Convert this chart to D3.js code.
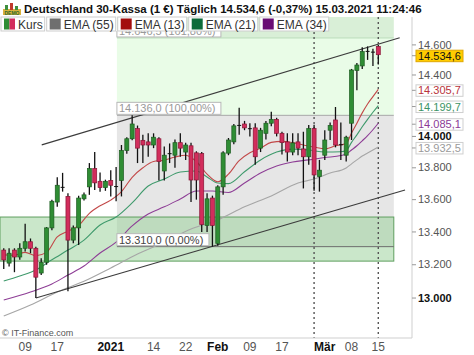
<!DOCTYPE html>
<html>
<head>
<meta charset="utf-8">
<script src="https://cdn.jsdelivr.net/npm/d3@7"></script>
<style>
    body { margin: 0; background: #fff; }
    svg { display: block; font-family: "Liberation Sans", Arial, sans-serif; }
</style>
</head>
<body>
<div id="wrapper"></div>
<script>
// trading days shown on the chart
const dates = [
    "2020-12-03", "2020-12-04", "2020-12-07", "2020-12-08", "2020-12-09", "2020-12-10", "2020-12-11",
    "2020-12-14", "2020-12-15", "2020-12-16", "2020-12-17", "2020-12-18", "2020-12-21", "2020-12-22",
    "2020-12-23", "2020-12-24", "2020-12-28", "2020-12-29", "2020-12-30", "2020-12-31",
    "2021-01-04", "2021-01-05", "2021-01-06", "2021-01-07", "2021-01-08", "2021-01-11", "2021-01-12",
    "2021-01-13", "2021-01-14", "2021-01-15", "2021-01-18", "2021-01-19", "2021-01-20", "2021-01-21",
    "2021-01-22", "2021-01-25", "2021-01-26", "2021-01-27", "2021-01-28", "2021-01-29",
    "2021-02-01", "2021-02-02", "2021-02-03", "2021-02-04", "2021-02-05", "2021-02-08", "2021-02-09",
    "2021-02-10", "2021-02-11", "2021-02-12", "2021-02-15", "2021-02-16", "2021-02-17", "2021-02-18",
    "2021-02-19", "2021-02-22", "2021-02-23", "2021-02-24", "2021-02-25", "2021-02-26",
    "2021-03-01", "2021-03-02", "2021-03-03", "2021-03-04", "2021-03-05", "2021-03-08", "2021-03-09",
    "2021-03-10", "2021-03-11", "2021-03-12", "2021-03-15"
];
const opens = [
    13289, 13210, 13289, 13247, 13300, 13340, 13300, 13150, 13215, 13425, 13585, 13680, 13620, 13350,
    13425, 13605, 13680, 13795, 13715, 13675, 13720, 13682, 13720, 13910, 13985, 14050, 13975, 13965,
    13945, 13985, 13780, 13890, 13880, 13960, 13900, 13940, 13895, 13890, 13440, 13610, 13330, 13680,
    13893, 13965, 14070, 14080, 14050, 14055, 13925, 14020, 14085, 14110, 14020, 13965, 13900, 13965,
    13920, 13870, 14050, 13745, 13880, 14040, 14106, 13950, 13880, 14085, 14430, 14460, 14555, 14555,
    14590
];
const highs = [
    13300, 13300, 13300, 13330, 13450, 13360, 13310, 13240, 13430, 13600, 13740, 13768, 13640, 13440,
    13625, 13645, 13830, 13900, 13770, 13725, 13785, 13805, 13945, 13995, 14136, 14070, 14010, 14020,
    14020, 13995, 13935, 13955, 13980, 14020, 13960, 13960, 13905, 13900, 13640, 13625, 13690, 13905,
    13990, 14080, 14185, 14100, 14085, 14085, 14055, 14100, 14160, 14120, 14030, 14020, 14020, 14020,
    14030, 14074, 14075, 13850, 14040, 14090, 14190, 14090, 14005, 14440, 14480, 14585, 14590, 14575,
    14600
];
const lows = [
    13175, 13190, 13155, 13230, 13280, 13270, 13000, 13138, 13200, 13410, 13555, 13650, 13040, 13330,
    13320, 13595, 13630, 13660, 13650, 13655, 13620, 13590, 13620, 13890, 13975, 13830, 13830, 13870,
    13925, 13720, 13720, 13830, 13800, 13870, 13850, 13585, 13600, 13400, 13400, 13310, 13315, 13630,
    13880, 13950, 14010, 14040, 14000, 13820, 13900, 13980, 14065, 14000, 13885, 13840, 13880, 13880,
    13670, 13820, 13655, 13650, 13850, 13977, 13930, 13850, 13840, 13977, 14300, 14440, 14500, 14460,
    14470
];
const closes = [
    13229, 13270, 13247, 13300, 13340, 13300, 13125, 13215, 13425, 13590, 13690, 13677, 13350, 13425,
    13610, 13630, 13795, 13705, 13675, 13715, 13690, 13685, 13910, 13985, 14080, 13925, 13945, 13945,
    13995, 13840, 13880, 13893, 13960, 13925, 13945, 13723, 13723, 13445, 13605, 13440, 13680, 13895,
    13977, 14068, 14074, 14055, 14053, 13870, 14040, 14085, 14110, 14020, 13960, 13900, 13958, 13925,
    13870, 14050, 13755, 13785, 13977, 14070, 13945, 13945, 13995, 14433, 14466, 14555, 14560, 14550,
    14534.6
];

// moving averages at a few days
const ema13Days = [0, 2, 4, 6, 8, 10, 12, 14, 16, 18, 20, 22, 24, 26, 28, 30, 32, 34, 36, 38, 40, 42, 44, 46,
    48, 50, 52, 54, 56, 58, 60, 62, 64, 65, 66, 67, 68, 69, 70];
const ema13Values = [13260, 13258, 13275, 13255, 13275, 13370, 13405, 13440, 13515, 13562, 13597, 13650,
    13740, 13800, 13840, 13848, 13868, 13880, 13840, 13760, 13712, 13760, 13845, 13895, 13925, 13962, 13968,
    13960, 13945, 13932, 13920, 13940, 13955, 14022, 14085, 14152, 14210, 14258, 14305.7];
const ema21Days = [0, 3, 6, 9, 12, 15, 18, 21, 24, 27, 30, 33, 36, 38, 40, 42, 45, 48, 51, 54, 57, 60, 63,
    64, 65, 66, 67, 68, 69, 70];
const ema21Values = [13102, 13132, 13168, 13230, 13289, 13350, 13443, 13492, 13580, 13685, 13729, 13773,
    13780, 13742, 13704, 13700, 13775, 13850, 13900, 13919, 13913, 13900, 13902, 13910, 13962, 14010, 14062,
    14110, 14156, 14199.7];
const ema34Days = [0, 5, 9, 12, 15, 18, 21, 24, 27, 30, 33, 36, 39, 42, 45, 48, 51, 54, 57, 60, 63, 64, 65,
    66, 67, 68, 69, 70];
const ema34Values = [12988, 13036, 13084, 13138, 13192, 13271, 13338, 13437, 13511, 13555, 13604, 13654,
    13654, 13645, 13704, 13767, 13812, 13837, 13850, 13865, 13878, 13887, 13913, 13940, 13972, 14005, 14043,
    14085.1];
const ema55Days = [0, 5, 10, 15, 20, 25, 30, 35, 40, 45, 50, 55, 58, 61, 64, 65, 66, 67, 68, 69, 70];
const ema55Values = [12893, 12958, 13036, 13100, 13180, 13265, 13338, 13418, 13474, 13555, 13623, 13704,
    13729, 13767, 13799, 13825, 13850, 13875, 13894, 13913, 13932.5];

// fibonacci retracement and zones
const fibLevels = [13310.0, 14136.0, 14646.5];
const fibPercents = [0, 100, 161.8];
const fibSpan = [21.15, 72.9];
const supportZone = [13222, 13492];
const supportSpan = [-0.7, 72.9];
const upperTrend = [[7.1, 13946], [74.0, 14648]];
const lowerTrend = [[6.0, 13000], [75.0, 13660]];
const markerDays = ["2021-02-25", "2021-03-15"];

// axes
const yTicks = [13000, 13200, 13400, 13600, 13800, 14000, 14400, 14600];
const yBoldTicks = [13000, 14000];
const xTickDays = ["2020-12-09", "2020-12-17", "2021-01-04", "2021-01-14", "2021-01-22", "2021-02-01",
    "2021-02-09", "2021-02-17", "2021-03-01", "2021-03-08", "2021-03-15"];
const xTickTexts = ["09", "17", "2021", "14", "22", "Feb", "09", "17", "Mär", "08", "15"];

const legendLabels = ["Kurs", "EMA (55)", "EMA (13)", "EMA (21)", "EMA (34)"];
const titleText = "Deutschland 30-Kassa (1 €) Täglich 14.534,6 (-0,37%) 15.03.2021 11:24:46";

async function drawChart() {
    const de = d3.formatLocale({ decimal: ",", thousands: ".", grouping: [3], currency: ["", " €"] });
    const fmtPrice = de.format(",.1f");
    const fmtTick = de.format(",.0f");
    const fmtPct = de.format(".2f");

    const candles = dates.map((d, i) => ({
        i, date: d, open: opens[i], high: highs[i], low: lows[i], close: closes[i]
    }));

    //2. dimensions
    const dimensions = {
        width: 474,
        height: 355,
        margin: { top: 17, right: 62, bottom: 17, left: 0 }
    };
    dimensions.boundedWidth = dimensions.width - dimensions.margin.left - dimensions.margin.right;
    dimensions.boundedHeight = dimensions.height - dimensions.margin.top - dimensions.margin.bottom;
    const legendBottom = 14;

    //3. canvas
    const wrapper = d3.select('#wrapper')
        .append('svg')
        .attr('width', dimensions.width)
        .attr('height', dimensions.height);
    const bounds = wrapper.append('g')
        .attr('transform', `translate(${dimensions.margin.left},${dimensions.margin.top})`);
    bounds.append('clipPath').attr('id', 'plot-clip')
        .append('rect')
        .attr('width', dimensions.boundedWidth)
        .attr('height', dimensions.boundedHeight);
    bounds.append('clipPath').attr('id', 'below-legend')
        .append('rect')
        .attr('y', legendBottom)
        .attr('width', dimensions.boundedWidth)
        .attr('height', dimensions.boundedHeight - legendBottom);
    const plot = bounds.append('g').attr('clip-path', 'url(#plot-clip)');

    //4. scales
    const xScale = d3.scaleLinear()
        .domain([-0.7, 76.3])
        .range([0, dimensions.boundedWidth]);
    const yScale = d3.scaleLog()
        .domain([12764, 14788])
        .range([dimensions.boundedHeight, 0]);
    const dayIndex = d => dates.indexOf(d);

    //5. zones
    const [fib0, fib100, fib161] = fibLevels;
    const fibX = xScale(fibSpan[0]);
    const fibW = xScale(fibSpan[1]) - xScale(fibSpan[0]);
    plot.append('rect')
        .attr('x', fibX).attr('width', fibW)
        .attr('y', 0)
        .attr('height', yScale(fib161))
        .attr('fill', '#d9efd7');
    plot.append('rect')
        .attr('x', fibX).attr('width', fibW)
        .attr('y', yScale(fib161))
        .attr('height', yScale(fib100) - yScale(fib161))
        .attr('fill', '#e9fce7');
    plot.append('rect')
        .attr('x', fibX).attr('width', fibW)
        .attr('y', yScale(fib100))
        .attr('height', yScale(fib0) - yScale(fib100))
        .attr('fill', '#e6e6e6');
    plot.append('rect')
        .attr('x', xScale(supportSpan[0]))
        .attr('width', xScale(supportSpan[1]) - xScale(supportSpan[0]))
        .attr('y', yScale(supportZone[1]))
        .attr('height', yScale(supportZone[0]) - yScale(supportZone[1]))
        .attr('fill', 'rgba(150,208,150,0.5)')
        .attr('stroke', '#5f9f5f')
        .attr('stroke-width', 1);

    const fibColors = ['#6d6d6d', '#a8a8a8', '#b9dcb9'];
    fibLevels.forEach((lvl, k) => {
        plot.append('line')
            .attr('x1', fibX)
            .attr('x2', fibX + fibW)
            .attr('y1', yScale(lvl))
            .attr('y2', yScale(lvl))
            .attr('stroke', fibColors[k])
            .attr('stroke-width', 1);
    });

    // dotted markers
    plot.selectAll('.marker')
        .data(markerDays)
        .join('line')
        .attr('class', 'marker')
        .attr('x1', d => xScale(dayIndex(d)))
        .attr('x2', d => xScale(dayIndex(d)))
        .attr('y1', 0)
        .attr('y2', dimensions.boundedHeight)
        .attr('stroke', '#555')
        .attr('stroke-width', 1.4)
        .attr('stroke-dasharray', '2,3');

    // moving averages
    const emaLine = d3.line()
        .x(d => xScale(d[0]))
        .y(d => yScale(d[1]))
        .curve(d3.curveMonotoneX);
    const emas = [
        { days: ema55Days, values: ema55Values, color: '#a6a6a6' },
        { days: ema34Days, values: ema34Values, color: '#8e3e96' },
        { days: ema21Days, values: ema21Values, color: '#3f9a6c' },
        { days: ema13Days, values: ema13Values, color: '#c24848' }
    ];
    emas.forEach(e => {
        plot.append('path')
            .datum(e.days.map((d, k) => [d, e.values[k]]))
            .attr('d', emaLine)
            .attr('fill', 'none')
            .attr('stroke', e.color)
            .attr('stroke-width', 1.1);
    });

    // trend channel
    [upperTrend, lowerTrend].forEach(t => {
        plot.append('line')
            .attr('x1', xScale(t[0][0]))
            .attr('y1', yScale(t[0][1]))
            .attr('x2', xScale(t[1][0]))
            .attr('y2', yScale(t[1][1]))
            .attr('stroke', '#3c3c3c')
            .attr('stroke-width', 1.2);
    });

    // candles
    const isDoji = d => Math.abs(d.open - d.close) < 8;
    const candleG = plot.selectAll('.candle')
        .data(candles)
        .join('g')
        .attr('class', 'candle');
    candleG.append('line')
        .attr('x1', d => xScale(d.i))
        .attr('x2', d => xScale(d.i))
        .attr('y1', d => yScale(d.high))
        .attr('y2', d => yScale(d.low))
        .attr('stroke', '#111')
        .attr('stroke-width', 1.3);
    candleG.append('rect')
        .attr('x', d => xScale(d.i) - 2)
        .attr('width', 4)
        .attr('y', d => yScale(Math.max(d.open, d.close)))
        .attr('height', d => Math.max(1, Math.abs(yScale(d.open) - yScale(d.close))))
        .attr('fill', d => isDoji(d) ? '#111' : (d.close > d.open ? '#2f8d34' : '#d22d5c'))
        .attr('stroke', d => isDoji(d) ? 'none' : (d.close > d.open ? '#1c5c20' : '#8a1535'))
        .attr('stroke-width', 0.7);

    // fib labels (the top one sits partly under the legend)
    const fibLabelG = bounds.append('g')
        .attr('clip-path', 'url(#below-legend)')
        .selectAll('.fib-label')
        .data(fibLevels)
        .join('g')
        .attr('class', 'fib-label')
        .attr('transform', d => `translate(${fibX},${yScale(d) - 13})`);
    fibLabelG.append('rect')
        .attr('width', (d, k) => k === 0 ? 92 : 104)
        .attr('height', 12)
        .attr('fill', '#fff')
        .attr('stroke', '#b8b8b8');
    fibLabelG.append('text')
        .attr('x', 2)
        .attr('y', 10)
        .attr('font-size', 11)
        .attr('fill', (d, k) => k === 0 ? '#444' : '#999')
        .text((d, k) => `${fmtPrice(d)} (${fmtPct(fibPercents[k])}%)`);

    //6. peripherals
    const axisX = dimensions.boundedWidth;
    bounds.append('line')
        .attr('x1', axisX).attr('x2', axisX)
        .attr('y1', 0).attr('y2', dimensions.boundedHeight)
        .attr('stroke', '#cfcfcf');
    bounds.append('line')
        .attr('x1', 0).attr('x2', axisX)
        .attr('y1', dimensions.boundedHeight).attr('y2', dimensions.boundedHeight)
        .attr('stroke', '#cfcfcf');

    const yAxis = bounds.append('g');
    const yTick = yAxis.selectAll('.ytick')
        .data(yTicks)
        .join('g')
        .attr('transform', d => `translate(${axisX},${yScale(d)})`);
    yTick.append('line').attr('x1', 0).attr('x2', 4).attr('stroke', '#999');
    yTick.append('text')
        .attr('x', 6)
        .attr('dy', '0.33em')
        .attr('font-size', 11)
        .attr('font-weight', d => yBoldTicks.includes(d) ? 'bold' : 'normal')
        .attr('fill', d => yBoldTicks.includes(d) ? '#111' : '#555')
        .text(d => fmtTick(d));

    // last values on the axis
    const lastValues = [
        { v: closes[closes.length - 1], color: '#111', bg: '#ffcc00', border: '#e0a800' },
        { v: ema13Values[ema13Values.length - 1], color: '#b8333b', bg: '#fff', border: '#cfcfcf' },
        { v: ema21Values[ema21Values.length - 1], color: '#3c9466', bg: '#fff', border: '#cfcfcf' },
        { v: ema34Values[ema34Values.length - 1], color: '#8b3a96', bg: '#fff', border: '#cfcfcf' },
        { v: ema55Values[ema55Values.length - 1], color: '#9a9a9a', bg: '#fff', border: '#cfcfcf' }
    ];
    const valG = yAxis.selectAll('.val')
        .data(lastValues)
        .join('g')
        .attr('transform', d => `translate(${axisX},${yScale(d.v) + 1})`);
    valG.append('line').attr('x1', 0).attr('x2', 4).attr('stroke', '#999');
    valG.append('rect')
        .attr('x', 4).attr('y', -5.5)
        .attr('width', 47).attr('height', 11.5)
        .attr('fill', d => d.bg)
        .attr('stroke', d => d.border);
    valG.append('text')
        .attr('x', 6)
        .attr('dy', '0.36em')
        .attr('font-size', 11)
        .attr('fill', d => d.color)
        .text(d => fmtPrice(d.v));

    const xAxis = bounds.append('g')
        .attr('transform', `translate(0,${dimensions.boundedHeight})`);
    const boldTick = t => isNaN(+t) || t.length > 2;
    xAxis.selectAll('text')
        .data(xTickDays)
        .join('text')
        .attr('x', d => xScale(dayIndex(d)))
        .attr('y', 13)
        .attr('text-anchor', 'middle')
        .attr('font-size', 12)
        .attr('font-weight', (d, k) => boldTick(xTickTexts[k]) ? 'bold' : 'normal')
        .attr('fill', (d, k) => boldTick(xTickTexts[k]) ? '#111' : '#555')
        .text((d, k) => xTickTexts[k]);

    bounds.append('text')
        .attr('x', 2)
        .attr('y', dimensions.boundedHeight - 2)
        .attr('font-size', 9)
        .attr('fill', '#555')
        .text('© IT-Finance.com');

    // title
    const icon = wrapper.append('g').attr('transform', 'translate(2,3)');
    icon.append('rect').attr('x', 1).attr('y', 6).attr('width', 18).attr('height', 6).attr('fill', '#d9b13a');
    icon.append('rect').attr('x', 3).attr('y', 2).attr('width', 3).attr('height', 5).attr('fill', '#3e8f3e');
    icon.append('rect').attr('x', 8).attr('y', 0).attr('width', 3).attr('height', 7).attr('fill', '#c0392b');
    icon.append('rect').attr('x', 13).attr('y', 3).attr('width', 3).attr('height', 4).attr('fill', '#3e8f3e');
    icon.append('text').attr('x', 10).attr('y', 11.5).attr('text-anchor', 'middle')
        .attr('font-size', 5).attr('font-weight', 'bold').attr('fill', '#2f6b2f').text('DEMO');
    wrapper.append('text')
        .attr('x', 24)
        .attr('y', 13)
        .attr('font-size', 11.5)
        .attr('font-weight', 'bold')
        .attr('fill', '#111')
        .text(titleText);

    // legend
    const legendColors = [null, '#6f6f6f', '#a30d0d', '#0d6b3a', '#6a0d74'];
    const legend = wrapper.append('g').attr('transform', 'translate(0,17)');
    let lx = 1;
    legendLabels.forEach((label, k) => {
        const item = legend.append('g').attr('transform', `translate(${lx},0)`);
        const box = item.append('rect').attr('height', legendBottom).attr('fill', '#fff').attr('stroke', '#cdcdcd');
        if (k === 0) {
            item.append('rect').attr('x', 3).attr('y', 1.5).attr('width', 5.5).attr('height', 11).attr('fill', '#2f8d34');
            item.append('rect').attr('x', 8.5).attr('y', 1.5).attr('width', 5.5).attr('height', 11).attr('fill', '#d22d5c');
        } else {
            item.append('rect').attr('x', 3).attr('y', 1.5).attr('width', 11).attr('height', 11)
                .attr('fill', legendColors[k]);
        }
        const t = item.append('text')
            .attr('x', 17)
            .attr('y', 11.5)
            .attr('font-size', 12)
            .attr('fill', '#333')
            .text(label);
        const w = t.node().getComputedTextLength() + 19;
        box.attr('width', w);
        lx += w + 2;
    });
}

drawChart();
</script>
</body>
</html>
